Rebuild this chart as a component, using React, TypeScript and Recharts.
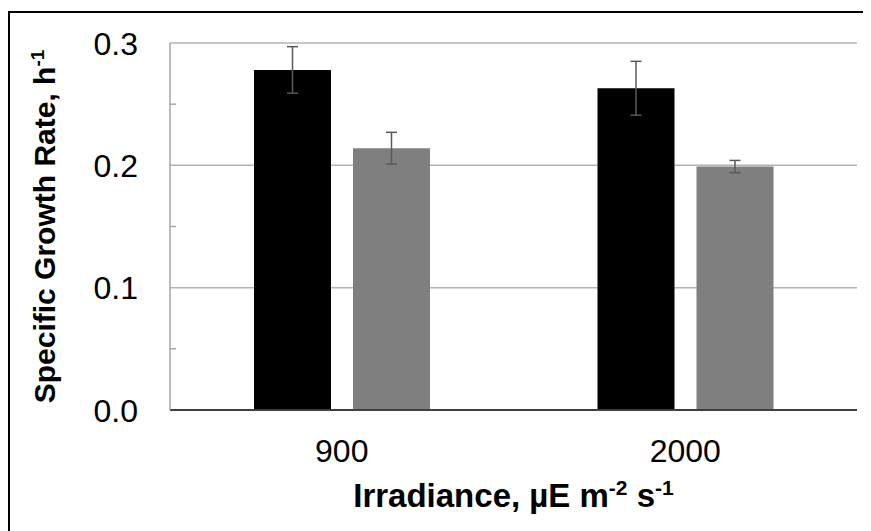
import React from 'react';
import { BarChart, Bar, XAxis, YAxis, CartesianGrid, ErrorBar, Label } from 'recharts';

const irradiance = ['900', '2000'];
const seriesA = [0.278, 0.263];
const seriesAErr = [0.019, 0.022];
const seriesB = [0.214, 0.199];
const seriesBErr = [0.013, 0.005];
const majorTicks = [0, 0.1, 0.2, 0.3];
const minorTicks = [0.05, 0.15, 0.25];

const data = irradiance.map((name, i) => ({
  name,
  a: seriesA[i],
  aErr: seriesAErr[i],
  b: seriesB[i],
  bErr: seriesBErr[i],
}));

const FONT = '"Liberation Sans", Arial, sans-serif';

const YTick = (props: any) => {
  const { x, y, payload } = props;
  const v = payload.value;
  if (minorTicks.some((m) => Math.abs(m - v) < 1e-9)) {
    return <line x1={x} x2={x + 6} y1={y} y2={y} stroke="#a6a6a6" strokeWidth={1.5} />;
  }
  return (
    <text x={x - 32} y={y} dy="0.36em" textAnchor="end" fontSize={32} fill="#000" fontFamily={FONT}>
      {v.toFixed(1)}
    </text>
  );
};

const YTitle = (props: any) => {
  const { x, y, height } = props.viewBox;
  const cx = x + 45;
  const cy = y + height / 2;
  return (
    <text
      x={cx}
      y={cy}
      transform={`rotate(-90 ${cx} ${cy})`}
      textAnchor="middle"
      fontSize={30}
      fontWeight="bold"
      fill="#000"
      fontFamily={FONT}
    >
      Specific Growth Rate, h<tspan fontSize={19} dy={-11}>-1</tspan>
    </text>
  );
};

const XTitle = (props: any) => {
  const { x, y, width } = props.viewBox;
  return (
    <text
      x={x + width / 2}
      y={y + 97}
      textAnchor="middle"
      fontSize={33}
      fontWeight="bold"
      fill="#000"
      fontFamily={FONT}
    >
      Irradiance, µE m<tspan fontSize={21} dy={-12}>-2</tspan>
      <tspan dy={12}> s</tspan>
      <tspan fontSize={21} dy={-12}>-1</tspan>
    </text>
  );
};

export default function App() {
  return (
    <div style={{ paddingTop: 3 }}>
      <div
        style={{
          width: 863,
          height: 520,
          borderTop: '2px solid #000',
          borderLeft: '2px solid #000',
          boxSizing: 'border-box',
          background: '#fff',
        }}
      >
        <BarChart
          width={861}
          height={518}
          data={data}
          margin={{ top: 30, right: 14, left: 0, bottom: 0 }}
          barSize={77}
          barGap={22}
        >
          <CartesianGrid
            vertical={false}
            horizontalValues={[0.1, 0.2, 0.3]}
            stroke="#b3b3b3"
            strokeWidth={1.5}
          />
          <XAxis
            dataKey="name"
            height={121}
            tickLine={false}
            tickSize={0}
            tickMargin={29}
            axisLine={{ stroke: '#404040', strokeWidth: 2 }}
            tick={{ fontSize: 32, fill: '#000', fontFamily: FONT }}
          >
            <Label content={XTitle} />
          </XAxis>
          <YAxis
            width={160}
            domain={[0, 0.3]}
            ticks={[...majorTicks, ...minorTicks].sort((p, q) => p - q)}
            interval={0}
            tickLine={false}
            tickSize={0}
            tickMargin={0}
            axisLine={{ stroke: '#a6a6a6', strokeWidth: 1.5 }}
            tick={YTick}
          >
            <Label content={YTitle} />
          </YAxis>
          <Bar dataKey="a" fill="#000" isAnimationActive={false}>
            <ErrorBar dataKey="aErr" width={5.5} stroke="#595959" strokeWidth={1.5} isAnimationActive={false} />
          </Bar>
          <Bar dataKey="b" fill="#7f7f7f" isAnimationActive={false}>
            <ErrorBar dataKey="bErr" width={5.5} stroke="#595959" strokeWidth={1.5} isAnimationActive={false} />
          </Bar>
        </BarChart>
      </div>
    </div>
  );
}
